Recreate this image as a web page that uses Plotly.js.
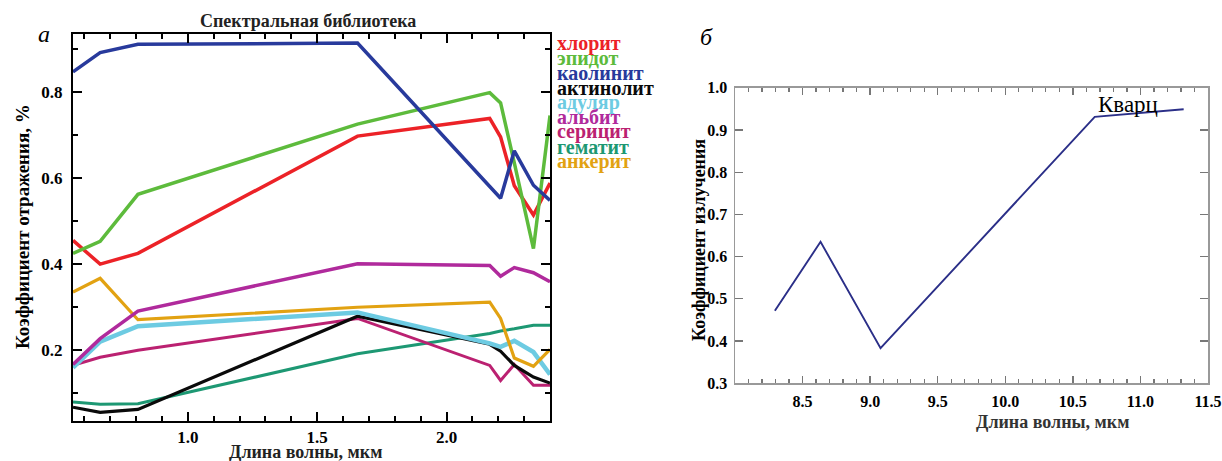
<!DOCTYPE html>
<html>
<head>
<meta charset="utf-8">
<script src="https://cdn.plot.ly/plotly-3.0.1.min.js"></script>
<style>html,body{margin:0;padding:0;background:#fff;}#chart{width:1222px;height:461px;}</style>
</head>
<body>
<div id="chart"></div>
<script>
// ---- Data: panel a (ASTER band centres, µm) ----
const bands = [0.556, 0.661, 0.807, 1.656, 2.167, 2.209, 2.262, 2.336, 2.400];
const mineralNames = ["хлорит", "эпидот", "каолинит", "актинолит", "адуляр", "альбит", "серицит", "гематит", "анкерит"];
const chlorite   = [0.455, 0.400, 0.425, 0.697, 0.738, 0.695, 0.582, 0.514, 0.588];
const epidote    = [0.425, 0.453, 0.562, 0.725, 0.798, 0.774, 0.635, 0.436, 0.745];
const kaolinite  = [0.846, 0.891, 0.910, 0.913, 0.580, 0.553, 0.663, 0.583, 0.548];
const actinolite = [0.068, 0.056, 0.063, 0.279, 0.214, 0.198, 0.165, 0.138, 0.124];
const adularia   = [0.160, 0.220, 0.256, 0.288, 0.216, 0.208, 0.222, 0.196, 0.144];
const albite     = [0.167, 0.227, 0.291, 0.401, 0.397, 0.372, 0.392, 0.380, 0.359];
const sericite   = [0.165, 0.184, 0.200, 0.274, 0.165, 0.130, 0.167, 0.119, 0.119];
const hematite   = [0.080, 0.075, 0.076, 0.192, 0.239, 0.245, 0.250, 0.258, 0.258];
const ankerite   = [0.335, 0.367, 0.271, 0.300, 0.312, 0.274, 0.182, 0.163, 0.202];
const seriesA = [chlorite, epidote, kaolinite, actinolite, adularia, albite, sericite, hematite, ankerite];
const colorsA = ["#ec2227", "#5dbb3c", "#283a9c", "#0a0a0a", "#6dcbe2", "#b02a9c", "#bb2171", "#1d9873", "#e2a212"];
const widthsA = [3.5, 3.5, 3.5, 3.2, 4.5, 3.5, 3, 3, 3.2];
const xTicksA = [1.0, 1.5, 2.0];

// ---- Data: panel б ----
const quartzX = [8.295, 8.633, 9.077, 10.662, 11.320];
const quartzY = [0.472, 0.635, 0.383, 0.931, 0.949];
const xTicksB = [8.5, 9.0, 9.5, 10.0, 10.5, 11.0, 11.5];
const yTicksB = [0.3, 0.4, 0.5, 0.6, 0.7, 0.8, 0.9, 1.0];

const W = 1222, H = 461;
const px = x => x / W;
const py = y => 1 - y / H;
const SERIF = "Liberation Serif";

const traces = [];
const order = [7, 6, 3, 4, 8, 5, 0, 1, 2];
order.forEach(i => {
  traces.push({
    x: bands, y: seriesA[i], type: "scatter", mode: "lines",
    line: {color: colorsA[i], width: widthsA[i]},
    xaxis: "x", yaxis: "y", showlegend: false, hoverinfo: "skip"
  });
});
traces.push({
  x: quartzX, y: quartzY, type: "scatter", mode: "lines",
  line: {color: "#2b2f88", width: 1.9},
  xaxis: "x2", yaxis: "y2", showlegend: false, hoverinfo: "skip"
});

const boldTick = (size) => ({family: SERIF, size: size, color: "#000", weight: 700});

const layout = {
  width: W, height: H,
  margin: {l: 0, r: 0, t: 0, b: 0},
  paper_bgcolor: "#fff", plot_bgcolor: "#fff",
  showlegend: false,
  xaxis: {
    domain: [px(73), px(550)], range: [0.556, 2.40], anchor: "y",
    tickmode: "array", tickvals: xTicksA, ticktext: xTicksA.map(v => v.toFixed(1)),
    ticks: "inside", ticklen: 9, tickwidth: 2, tickcolor: "#000",
    minor: {dtick: 0.1, tick0: 0, ticks: "inside", ticklen: 5, tickwidth: 2, tickcolor: "#000", showgrid: false},
    showline: true, linewidth: 2, linecolor: "#000", mirror: "ticks",
    showgrid: false, zeroline: false, automargin: false,
    tickfont: boldTick(17), ticklabelstandoff: 0
  },
  yaxis: {
    domain: [py(421), py(34)], range: [0.036, 0.934], anchor: "x",
    tick0: 0, dtick: 0.2, tickformat: ".1f",
    ticks: "inside", ticklen: 9, tickwidth: 2, tickcolor: "#000",
    minor: {dtick: 0.1, tick0: 0, ticks: "inside", ticklen: 5, tickwidth: 2, tickcolor: "#000", showgrid: false},
    showline: true, linewidth: 2, linecolor: "#000", mirror: "ticks",
    showgrid: false, zeroline: false, automargin: false,
    tickfont: boldTick(17), ticklabelstandoff: 5
  },
  xaxis2: {
    domain: [px(735), px(1208)], range: [8.0, 11.5], anchor: "y2",
    tickmode: "array", tickvals: xTicksB, ticktext: xTicksB.map(v => v.toFixed(1)),
    ticks: "inside", ticklen: 7, tickwidth: 1.3, tickcolor: "#777",
    minor: {dtick: 0.1, tick0: 0, ticks: "inside", ticklen: 4, tickwidth: 1.3, tickcolor: "#777", showgrid: false},
    showline: true, linewidth: 1.5, linecolor: "#999", mirror: "ticks",
    showgrid: false, zeroline: false, automargin: false,
    tickfont: boldTick(16), ticklabelstandoff: 3
  },
  yaxis2: {
    domain: [py(383.3), py(87.7)], range: [0.3, 1.0], anchor: "x2",
    tickmode: "array", tickvals: yTicksB, ticktext: yTicksB.map(v => v.toFixed(1)),
    ticks: "inside", ticklen: 8, tickwidth: 1.3, tickcolor: "#777",
    showline: true, linewidth: 1.5, linecolor: "#999", mirror: "ticks",
    showgrid: false, zeroline: false, automargin: false,
    tickfont: boldTick(16), ticklabelstandoff: 3
  },
  annotations: []
};

const ann = (text, x, y, opts) => Object.assign({
  text: text, xref: "paper", yref: "paper", x: px(x), y: py(y),
  showarrow: false, xanchor: "center", yanchor: "middle",
  font: {family: SERIF, size: 17, color: "#000", weight: 700}
}, opts || {});

layout.annotations.push(ann("Спектральная библиотека", 308, 21, {font: {family: SERIF, size: 18, color: "#222", weight: 700}}));
layout.annotations.push(ann("<i>а</i>", 44, 34, {font: {family: SERIF, size: 24, color: "#000"}}));
layout.annotations.push(ann("Коэффициент отражения, %", 22, 227, {textangle: -90, font: {family: SERIF, size: 19, color: "#000", weight: 700}}));
layout.annotations.push(ann("Длина волны, мкм", 306, 452, {font: {family: SERIF, size: 18, color: "#222", weight: 700}}));

const legendY = [43, 58, 73, 88, 102.5, 117, 131.5, 146.5, 161.5];
mineralNames.forEach((n, i) => {
  layout.annotations.push(ann(n, 555, legendY[i], {xanchor: "left", font: {family: SERIF, size: 20, color: colorsA[i], weight: 700}}));
});

layout.annotations.push(ann("<i>б</i>", 706, 37, {font: {family: SERIF, size: 24, color: "#000"}}));
layout.annotations.push(ann("Кварц", 1128, 105, {font: {family: SERIF, size: 23, color: "#000"}}));
layout.annotations.push(ann("Коэффициент излучения", 699, 240, {textangle: -90, font: {family: SERIF, size: 18, color: "#000", weight: 700}}));
layout.annotations.push(ann("Длина волны, мкм", 1053, 422, {font: {family: SERIF, size: 18, color: "#333", weight: 700}}));

Plotly.newPlot("chart", traces, layout, {staticPlot: true, displayModeBar: false});
</script>
</body>
</html>
